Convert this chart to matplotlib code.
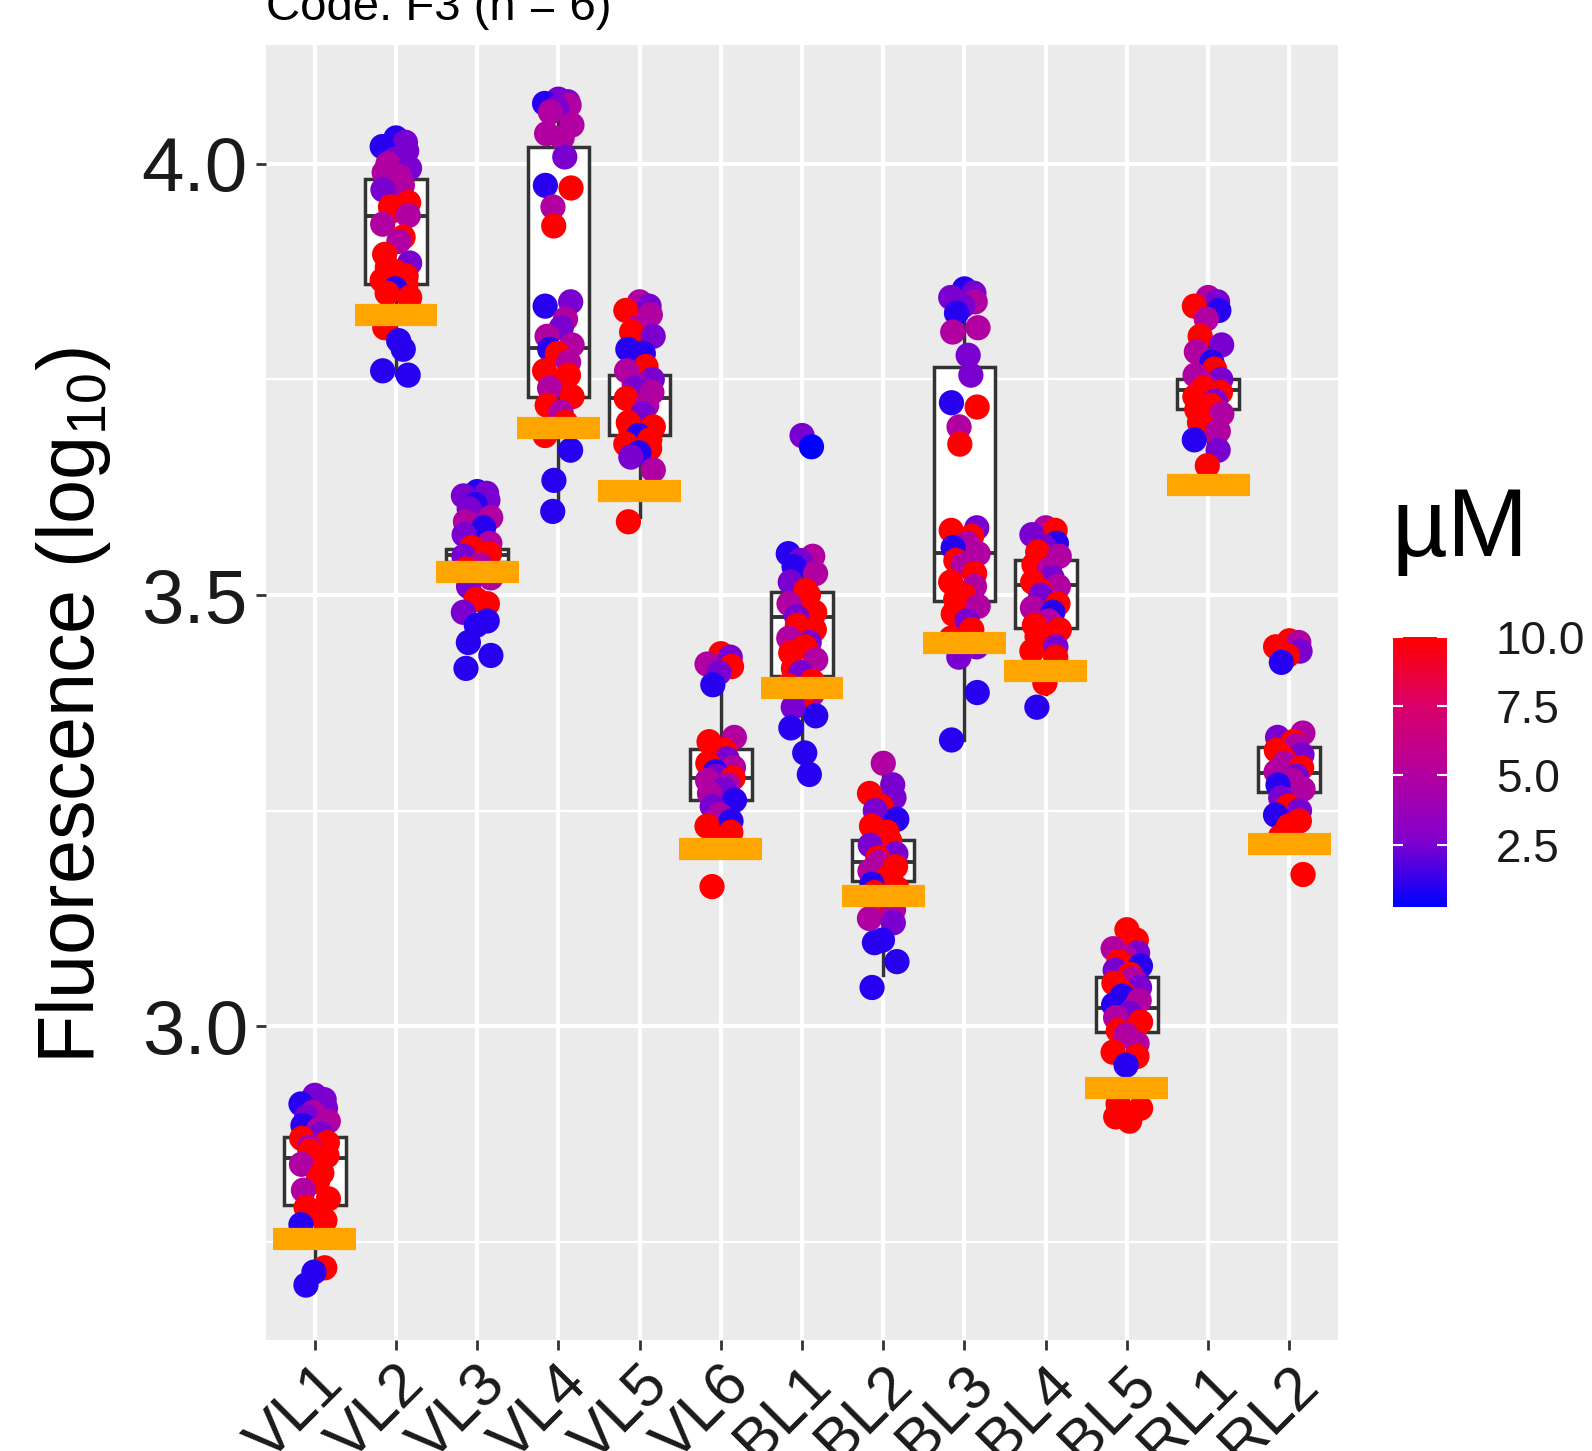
import matplotlib.pyplot as plt
import numpy as np
from matplotlib.colors import LinearSegmentedColormap, Normalize

plt.rcParams['font.family'] = ['Liberation Sans', 'DejaVu Sans']
plt.rcParams['mathtext.fontset'] = 'custom'
plt.rcParams['mathtext.rm'] = 'Liberation Sans'
plt.rcParams['mathtext.it'] = 'Liberation Sans:italic'

groups = ['VL1', 'VL2', 'VL3', 'VL4', 'VL5', 'VL6', 'BL1', 'BL2', 'BL3', 'BL4', 'BL5', 'RL1', 'RL2']

# log10 fluorescence of each well and its concentration (uM)
vl1_y = [2.92, 2.915, 2.91, 2.905, 2.90, 2.895, 2.89, 2.885, 2.88, 2.875, 2.87, 2.865, 2.86, 2.855,
         2.85, 2.84, 2.83, 2.82, 2.81, 2.80, 2.79, 2.785, 2.775, 2.77, 2.72, 2.715, 2.70]
vl1_c = [2.5, 2.5, 1, 2.5, 5, 2.5, 5, 1, 5, 2.5, 10, 10, 5, 10,
         10, 5, 10, 10, 5, 10, 10, 10, 10, 1, 10, 1, 1]

vl2_y = [4.03, 4.025, 4.02, 4.015, 4.005, 4.0, 3.995, 3.99, 3.985, 3.975, 3.97, 3.955, 3.95, 3.945,
         3.94, 3.93, 3.915, 3.91, 3.895, 3.885, 3.88, 3.875, 3.87, 3.865, 3.86, 3.855, 3.85, 3.845,
         3.81, 3.795, 3.785, 3.76, 3.755]
vl2_c = [1, 2.5, 1, 2.5, 2.5, 5, 2.5, 5, 5, 5, 2.5, 10, 10, 10,
         5, 5, 10, 5, 10, 2.5, 10, 10, 10, 10, 10, 1, 10, 10,
         10, 1, 1, 1, 1]

vl3_y = [3.62, 3.618, 3.615, 3.61, 3.605, 3.60, 3.59, 3.585, 3.58, 3.578, 3.57, 3.56, 3.555, 3.55,
         3.548, 3.545, 3.54, 3.535, 3.53, 3.52, 3.51, 3.495, 3.49, 3.48, 3.47, 3.465, 3.445, 3.43, 3.415]
vl3_c = [1, 2.5, 2.5, 2.5, 1, 2.5, 5, 5, 5, 1, 2.5, 5, 10, 10,
         10, 2.5, 10, 5, 10, 5, 2.5, 10, 10, 2.5, 1, 1, 1, 1, 1]

vl4_y = [4.075, 4.072, 4.07, 4.068, 4.065, 4.06, 4.045, 4.035, 4.03, 4.008, 3.975, 3.972, 3.95, 3.928,
         3.84, 3.835, 3.82, 3.81, 3.80, 3.79, 3.785, 3.78, 3.77, 3.76, 3.755, 3.748, 3.74, 3.73,
         3.72, 3.712, 3.70, 3.685, 3.668, 3.633, 3.597]
vl4_c = [2.5, 2.5, 1, 5, 2.5, 5, 5, 5, 5, 2.5, 1, 10, 5, 10,
         2.5, 1, 5, 2.5, 5, 5, 1, 10, 5, 10, 10, 10, 5, 10,
         10, 5, 10, 10, 1, 1, 1]

vl5_y = [3.84, 3.835, 3.83, 3.825, 3.81, 3.805, 3.80, 3.785, 3.78, 3.765, 3.76, 3.75, 3.745, 3.74,
         3.735, 3.728, 3.72, 3.71, 3.70, 3.695, 3.69, 3.685, 3.68, 3.675, 3.67, 3.665, 3.66, 3.645, 3.585]
vl5_c = [5, 2.5, 10, 5, 5, 10, 2.5, 1, 1, 10, 5, 2.5, 5, 2.5,
         5, 10, 5, 2.5, 10, 10, 10, 1, 10, 10, 10, 1, 2.5, 5, 10]

vl6_y = [3.432, 3.428, 3.42, 3.417, 3.41, 3.396, 3.335, 3.33, 3.32, 3.31, 3.305, 3.30, 3.295, 3.29,
         3.288, 3.285, 3.28, 3.275, 3.27, 3.262, 3.255, 3.245, 3.238, 3.232, 3.225, 3.215, 3.162]
vl6_c = [10, 2.5, 5, 10, 2.5, 1, 5, 10, 10, 2.5, 10, 5, 1, 2.5,
         10, 5, 5, 2.5, 5, 1, 2.5, 5, 1, 10, 10, 10, 10]

bl1_y = [3.685, 3.672, 3.548, 3.545, 3.54, 3.533, 3.525, 3.515, 3.505, 3.50, 3.49, 3.48, 3.475, 3.465,
         3.46, 3.45, 3.445, 3.44, 3.433, 3.425, 3.415, 3.41, 3.40, 3.395, 3.385, 3.375, 3.37, 3.36,
         3.346, 3.317, 3.292]
bl1_c = [2.5, 0.25, 1, 5, 2.5, 1, 5, 2.5, 10, 10, 5, 10, 2.5, 10,
         10, 5, 2.5, 10, 10, 5, 10, 2.5, 10, 10, 5, 10, 2.5, 1,
         1, 1, 1]

bl2_y = [3.305, 3.28, 3.27, 3.265, 3.255, 3.25, 3.24, 3.232, 3.225, 3.215, 3.21, 3.20, 3.195, 3.19,
         3.185, 3.18, 3.175, 3.17, 3.165, 3.16, 3.155, 3.14, 3.135, 3.125, 3.12, 3.10, 3.097, 3.075, 3.045]
bl2_c = [5, 2.5, 10, 2.5, 10, 2.5, 1, 10, 10, 10, 2.5, 2.5, 10, 5,
         10, 5, 10, 10, 1, 10, 10, 10, 5, 5, 2.5, 1, 1, 1, 1]

bl3_y = [3.855, 3.85, 3.845, 3.84, 3.835, 3.827, 3.81, 3.805, 3.778, 3.755, 3.723, 3.718, 3.695, 3.675,
         3.578, 3.575, 3.568, 3.56, 3.555, 3.548, 3.54, 3.535, 3.525, 3.515, 3.51, 3.50, 3.495, 3.487,
         3.478, 3.47, 3.46, 3.45, 3.44, 3.433, 3.428, 3.387, 3.332]
bl3_c = [1, 2.5, 2.5, 5, 2.5, 1, 5, 5, 2.5, 2.5, 1, 10, 5, 10,
         2.5, 10, 10, 5, 1, 5, 10, 5, 10, 10, 5, 10, 10, 5,
         10, 2.5, 10, 10, 2.5, 10, 2.5, 1, 1]

bl4_y = [3.578, 3.575, 3.57, 3.56, 3.556, 3.55, 3.545, 3.535, 3.53, 3.52, 3.515, 3.51, 3.505, 3.50,
         3.49, 3.485, 3.48, 3.47, 3.465, 3.46, 3.452, 3.445, 3.44, 3.435, 3.428, 3.398, 3.37]
bl4_c = [5, 10, 2.5, 1, 2.5, 10, 5, 10, 5, 2.5, 10, 5, 10, 2.5,
         10, 5, 1, 5, 10, 10, 10, 10, 2.5, 10, 10, 10, 1]

bl5_y = [3.112, 3.10, 3.09, 3.085, 3.08, 3.075, 3.07, 3.065, 3.06, 3.055, 3.05, 3.045, 3.04, 3.035,
         3.03, 3.025, 3.02, 3.015, 3.01, 3.005, 2.995, 2.99, 2.98, 2.97, 2.965, 2.955, 2.91, 2.905,
         2.895, 2.89]
bl5_c = [10, 10, 5, 2.5, 5, 10, 1, 2.5, 10, 5, 10, 2.5, 10, 1,
         5, 1, 5, 2.5, 5, 10, 10, 5, 5, 10, 10, 1, 10, 10,
         10, 10]

rl1_y = [3.845, 3.84, 3.835, 3.83, 3.82, 3.80, 3.79, 3.782, 3.77, 3.762, 3.755, 3.75, 3.745, 3.74,
         3.735, 3.73, 3.725, 3.72, 3.715, 3.71, 3.70, 3.692, 3.69, 3.68, 3.668, 3.65]
rl1_c = [5, 2.5, 10, 1, 5, 10, 2.5, 5, 1, 10, 5, 2.5, 5, 10,
         10, 10, 2.5, 10, 10, 5, 10, 10, 5, 1, 2.5, 10]

rl2_y = [3.447, 3.445, 3.44, 3.435, 3.43, 3.422, 3.34, 3.335, 3.33, 3.325, 3.32, 3.315, 3.31, 3.305,
         3.30, 3.295, 3.29, 3.285, 3.28, 3.275, 3.265, 3.255, 3.25, 3.245, 3.238, 3.232, 3.22, 3.176]
rl2_c = [10, 5, 10, 2.5, 10, 1, 5, 2.5, 10, 5, 10, 2.5, 10, 5,
         10, 5, 2.5, 5, 1, 5, 2.5, 10, 2.5, 1, 10, 10, 10, 10]

points_y = [vl1_y, vl2_y, vl3_y, vl4_y, vl5_y, vl6_y, bl1_y, bl2_y, bl3_y, bl4_y, bl5_y, rl1_y, rl2_y]
points_c = [vl1_c, vl2_c, vl3_c, vl4_c, vl5_c, vl6_c, bl1_c, bl2_c, bl3_c, bl4_c, bl5_c, rl1_c, rl2_c]

# box statistics
box_q1 = [2.793, 3.861, 3.538, 3.730, 3.686, 3.262, 3.406, 3.168, 3.493, 3.462, 2.993, 3.716, 3.272]
box_med = [2.847, 3.939, 3.546, 3.786, 3.728, 3.288, 3.475, 3.190, 3.549, 3.512, 3.021, 3.738, 3.294]
box_q3 = [2.872, 3.982, 3.553, 4.019, 3.755, 3.321, 3.504, 3.216, 3.764, 3.541, 3.057, 3.751, 3.324]
box_lo = [2.715, 3.755, 3.520, 3.597, 3.590, 3.215, 3.292, 3.060, 3.332, 3.385, 2.890, 3.665, 3.220]
box_hi = [2.915, 4.030, 3.570, 4.075, 3.840, 3.396, 3.548, 3.305, 3.855, 3.578, 3.112, 3.800, 3.340]

# reference level per channel (orange bars)
ref_level = [2.753, 3.825, 3.527, 3.694, 3.621, 3.206, 3.392, 3.151, 3.445, 3.412, 2.929, 3.628, 3.211]

fig = plt.figure(figsize=(15.92, 14.51), dpi=100)
ax = fig.add_axes([0.1671, 0.0765, 0.6734, 0.8925])
ax.set_facecolor('#EBEBEB')
for s in ax.spines.values():
    s.set_visible(False)

pos = np.arange(1, len(groups) + 1)

stats = []
for i in range(len(groups)):
    stats.append(dict(q1=box_q1[i], med=box_med[i], q3=box_q3[i],
                      whislo=box_lo[i], whishi=box_hi[i], fliers=[]))
ax.bxp(stats, positions=pos, widths=0.76, patch_artist=True, showcaps=False,
       boxprops=dict(facecolor='white', edgecolor='#333333', linewidth=2.5),
       medianprops=dict(color='#333333', linewidth=2.8),
       whiskerprops=dict(color='#333333', linewidth=2.5), zorder=2)

cmap = LinearSegmentedColormap.from_list('um', [(0, '#0000FF'), (0.25, '#8400CC'), (0.5, '#B4009E'),
                                                (0.75, '#DA0068'), (1, '#FF0000')])
norm = Normalize(0.25, 10)

for i in range(len(groups)):
    n = len(points_y[i])
    jit = 0.17 * np.sin(np.arange(n) * 2.39)
    sc = ax.scatter(pos[i] + jit, points_y[i], c=points_c[i], cmap=cmap, norm=norm,
                    s=330, linewidths=0, zorder=3)

ax.hlines(ref_level, pos - 0.51, pos + 0.51, color='#FFA500', linewidth=16,
          capstyle='butt', zorder=4)

ax.set_xlim(0.4, 13.6)
ax.set_ylim(2.6363, 4.1378)
ax.set_yticks([3.0, 3.5, 4.0])
ax.set_yticklabels(['3.0', '3.5', '4.0'])
ax.set_yticks([2.75, 3.25, 3.75], minor=True)
ax.set_xticks(pos)
ax.set_xticklabels(groups, rotation=45, ha='right', va='top', rotation_mode='anchor')
ax.set_axisbelow(True)
ax.grid(which='major', color='white', linewidth=3)
ax.grid(which='minor', axis='y', color='white', linewidth=1.6)
ax.tick_params(axis='both', which='major', length=7, width=2, color='#333333', labelcolor='#1A1A1A')
ax.tick_params(axis='y', which='major', labelsize=55, pad=6)
ax.tick_params(axis='x', which='major', labelsize=44, pad=4)
ax.tick_params(axis='y', which='minor', length=0)

ax.set_ylabel('Fluorescence (log$_{\\mathrm{10}}$)', fontsize=57, color='black')
ax.yaxis.set_label_coords(-0.143, 0.49)

fig.text(0.1671, 0.986, 'Code: F3 (n = 6)', fontsize=34, va='baseline', ha='left')

cax = fig.add_axes([0.875, 0.375, 0.034, 0.186])
cb = fig.colorbar(sc, cax=cax, ticks=[2.5, 5.0, 7.5, 10.0])
cb.outline.set_visible(False)
cb.ax.set_yticklabels(['2.5', '5.0', '7.5', '10.0'])
cb.ax.tick_params(direction='in', color='white', length=7, width=1.5, left=True, right=True,
                  labelsize=33, pad=35, labelcolor='#1A1A1A')
fig.text(0.874, 0.617, 'µM', fontsize=70, va='baseline', ha='left')

fig.savefig('out.png', dpi=100)
